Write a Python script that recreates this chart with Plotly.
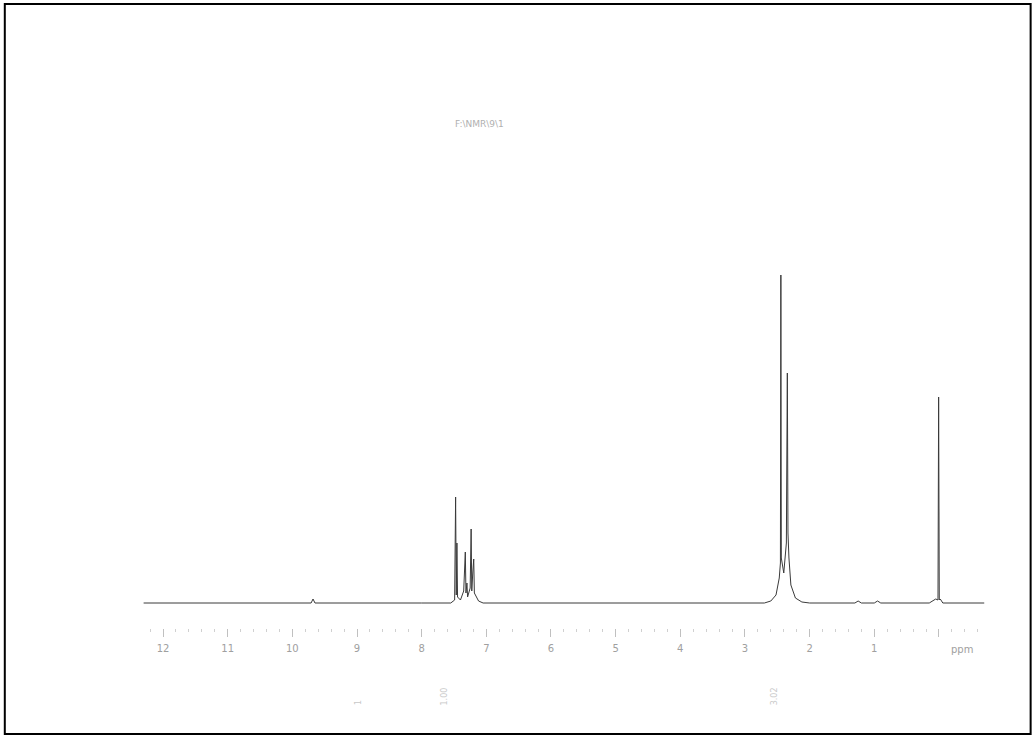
import plotly.graph_objects as go

# spectrum points (ppm, relative intensity)
ppm = [12.30, 9.71, 9.68, 9.65, 8.00,
       7.55, 7.49, 7.475, 7.465, 7.455, 7.445, 7.40, 7.35, 7.325, 7.315, 7.30, 7.29,
       7.25, 7.235, 7.225, 7.21, 7.195, 7.185, 7.17, 7.12, 7.05,
       3.00, 2.70, 2.60, 2.52, 2.47, 2.452, 2.445, 2.438, 2.40, 2.36, 2.345, 2.335,
       2.32, 2.29, 2.22, 2.12, 2.00,
       1.30, 1.25, 1.20, 1.00, 0.95, 0.90, 0.15, 0.05, 0.015, 0.005, -0.005, -0.02, -0.06, -0.70]
intensity = [0, 0, 4, 0, 0,
             0, 3, 106, 8, 60, 6, 3, 12, 51, 10, 20, 6,
             15, 74, 12, 30, 44, 10, 8, 2, 0,
             0, 0, 2, 8, 25, 40, 328, 45, 30, 60, 230, 70,
             45, 18, 5, 1, 0,
             0, 2, 0, 0, 2, 0, 0, 4, 3, 206, 3, 4, 0, 0]

tick_vals = [12, 11, 10, 9, 8, 7, 6, 5, 4, 3, 2, 1, 0]
tick_text = ["12", "11", "10", "9", "8", "7", "6", "5", "4", "3", "2", "1", ""]
title_text = "F:\\NMR\\9\\1"
integral_ppm = [8.98, 7.65, 2.55]
integral_text = ["1", "1.00", "3.02"]

fig = go.Figure()
fig.add_trace(go.Scatter(x=ppm, y=intensity, mode="lines",
                         line=dict(color="#3a3a3a", width=1), hoverinfo="skip",
                         showlegend=False))

for p, t in zip(integral_ppm, integral_text):
    fig.add_annotation(x=p, y=-0.15, xref="x", yref="paper", text=t, showarrow=False,
                       textangle=-90, font=dict(size=8, color="#c8c8c8", family="DejaVu Sans"))

fig.add_annotation(x=0.402, y=0.968, xref="paper", yref="paper", text=title_text,
                   showarrow=False, font=dict(size=9, color="#b0b0b0", family="DejaVu Sans"))
fig.add_annotation(x=-0.36, y=-0.055, xref="x", yref="paper", text="ppm",
                   showarrow=False, font=dict(size=10, color="#a0a0a0", family="DejaVu Sans"))

fig.add_shape(type="rect", xref="paper", yref="paper",
              x0=-0.16, x1=1.054, y0=-0.2008, y1=1.1818,
              line=dict(color="black", width=2))

fig.update_layout(
    width=1035, height=737,
    margin=dict(l=140, r=50, t=100, b=109),
    paper_bgcolor="white", plot_bgcolor="white",
    xaxis=dict(range=[12.356, -0.712], showgrid=False, zeroline=False, showline=False,
               tickvals=tick_vals, ticktext=tick_text, ticks="outside", ticklen=8,
               tickcolor="#c0c0c0", tickwidth=1, ticklabelstandoff=3,
               tickfont=dict(size=10, color="#a0a0a0", family="DejaVu Sans"),
               minor=dict(dtick=0.2, ticks="outside", ticklen=3, tickcolor="#d0d0d0")),
    yaxis=dict(range=[-25, 503], visible=False),
)

fig.write_html("out.html", config={"displayModeBar": False},
               post_script="document.body.style.margin='0px';document.body.style.overflow='hidden';")
